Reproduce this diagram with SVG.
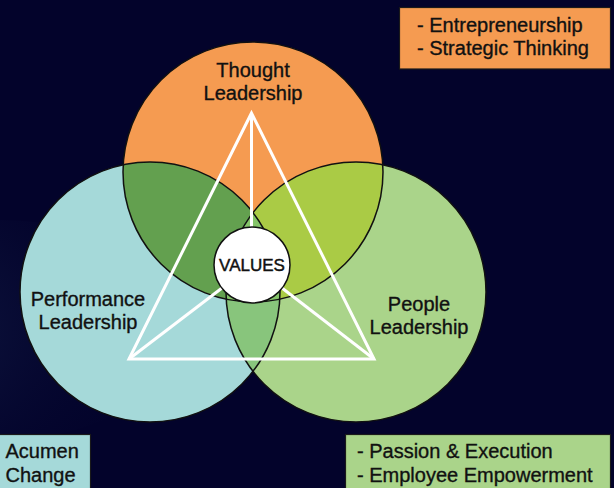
<svg xmlns="http://www.w3.org/2000/svg" width="614" height="488" viewBox="0 0 614 488">
<defs>
<radialGradient id="glow" cx="0" cy="0.5" r="1">
<stop offset="0" stop-color="#24406e" stop-opacity="0.8"/>
<stop offset="0.45" stop-color="#14204a" stop-opacity="0.4"/>
<stop offset="1" stop-color="#03032b" stop-opacity="0"/>
</radialGradient>
<clipPath id="cTeal"><circle cx="150" cy="292" r="130"/></clipPath>
<clipPath id="cGreen"><circle cx="356" cy="292" r="130"/></clipPath>
<clipPath id="cOrange"><circle cx="253" cy="172" r="130"/></clipPath>
<style>
text{font-family:"Liberation Sans",Arial,Helvetica,sans-serif;fill:#111;stroke:#111;stroke-width:0.35;}
.lbl{font-size:20px;text-anchor:middle;}
.box{font-size:20px;}
.outline{fill:none;stroke:#111;stroke-width:1.5;}
.tri{fill:none;stroke:#fff;stroke-width:3;stroke-linejoin:miter;}
.rect{stroke:#1a1a1a;stroke-width:1.2;}
</style>
</defs>
<rect width="614" height="488" fill="#03032b"/>
<ellipse cx="0" cy="330" rx="180" ry="110" fill="url(#glow)"/>

<g id="circle-performance">
<circle cx="150" cy="292" r="130" fill="#a5d9d9"/>
</g>
<g id="circle-people">
<circle cx="356" cy="292" r="130" fill="#aad48a"/>
</g>
<g id="circle-thought">
<circle cx="253" cy="172" r="130" fill="#f59b51"/>
</g>
<g id="overlaps">
<circle cx="253" cy="172" r="130" fill="#63a04f" clip-path="url(#cTeal)"/>
<circle cx="253" cy="172" r="130" fill="#aacb45" clip-path="url(#cGreen)"/>
<circle cx="150" cy="292" r="130" fill="#88c57c" clip-path="url(#cGreen)"/>
<g clip-path="url(#cTeal)"><circle cx="253" cy="172" r="130" fill="#85c46a" clip-path="url(#cGreen)"/></g>
</g>
<g id="outlines">
<circle class="outline" cx="150" cy="292" r="130"/>
<circle class="outline" cx="356" cy="292" r="130"/>
<circle class="outline" cx="253" cy="172" r="130"/>
</g>

<g id="connectors">
<polygon class="tri" points="251.5,113 129,359 374,359"/>
<line class="tri" x1="251.5" y1="113" x2="251.5" y2="228"/>
<line class="tri" x1="129" y1="359" x2="222" y2="288"/>
<line class="tri" x1="374" y1="359" x2="282" y2="288"/>
</g>

<g id="node-values">
<circle cx="252" cy="265" r="38" fill="#fff" stroke="#111" stroke-width="1.5"/>
<text x="252" y="271" font-size="17" text-anchor="middle" style="stroke-width:0.45">VALUES</text>
</g>

<g id="label-thought">
<text class="lbl" x="253" y="77">Thought</text>
<text class="lbl" x="253" y="100">Leadership</text>
</g>
<g id="label-performance">
<text class="lbl" x="88" y="306">Performance</text>
<text class="lbl" x="88" y="329">Leadership</text>
</g>
<g id="label-people">
<text class="lbl" x="419" y="311">People</text>
<text class="lbl" x="419" y="334">Leadership</text>
</g>

<g id="box-thought">
<rect class="rect" x="399.5" y="7.5" width="211" height="61.5" fill="#f59b51"/>
<text class="box" x="417" y="32">- Entrepreneurship</text>
<text class="box" x="417" y="55">- Strategic Thinking</text>
</g>
<g id="box-performance">
<rect class="rect" x="-2" y="434.5" width="92.5" height="56" fill="#a5d9d9"/>
<text class="box" x="5.5" y="458">Acumen</text>
<text class="box" x="5.5" y="482">Change</text>
</g>
<g id="box-people">
<rect class="rect" x="345.5" y="434.5" width="265" height="56" fill="#aad48a"/>
<text class="box" x="357" y="457.5">- Passion &amp; Execution</text>
<text class="box" x="357" y="481.5">- Employee Empowerment</text>
</g>
</svg>
